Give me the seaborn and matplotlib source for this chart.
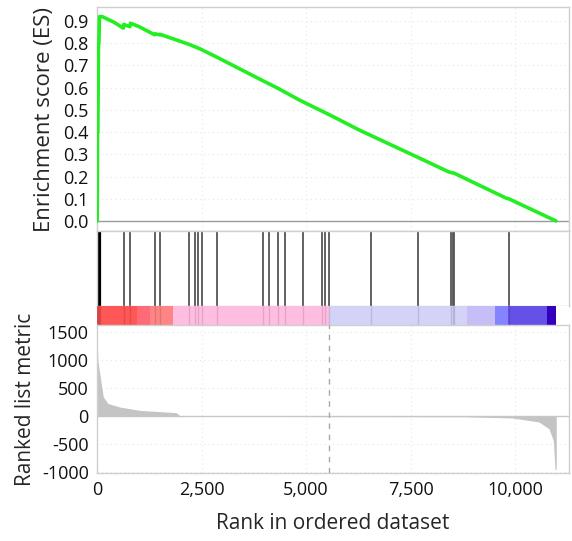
import numpy as np
import pandas as pd
import matplotlib
matplotlib.use("Agg")
import matplotlib.pyplot as plt
import seaborn as sns

# ---------------- data ----------------
es_rank = [0, 5, 12, 20, 35, 45, 60, 120, 400, 630, 640, 700, 790, 800, 1000,
           1380, 1400, 1500, 1510, 2200, 2460, 2870, 3980, 4320, 4845, 5560,
           6277, 7680, 8425, 8545, 9785, 9850, 10980]
es_value = [0.0, 0.0, 0.40, 0.40, 0.79, 0.80, 0.92, 0.92, 0.895, 0.868, 0.885,
            0.88, 0.875, 0.89, 0.875, 0.838, 0.842, 0.838, 0.84, 0.795, 0.775,
            0.737, 0.630, 0.598, 0.544, 0.478, 0.409, 0.286, 0.22, 0.215, 0.103,
            0.10, 0.0]

hit_ranks = [5, 15, 40, 60, 652, 795, 1392, 1504, 2212, 2339, 2419, 2514, 2864,
             3978, 4121, 4320, 4503, 4933, 5378, 5457, 5561, 6556, 7678, 8465,
             8504, 8544, 9849]

metric_rank = [0, 20, 70, 150, 260, 550, 1030, 1900, 2000, 8780, 9935, 10570,
               10810, 10915, 10955, 10985, 10986]
metric_value = [1400, 1000, 740, 350, 230, 166, 107, 66, 0, -6, -28, -100,
                -220, -430, -940, -950, 0]

band_start = [0, 945, 1265, 1820, 5560, 8860, 9515, 9840, 10770]
band_end = [945, 1265, 1820, 5560, 8860, 9515, 9840, 10770, 10985]
band_color = ["#FF5656", "#FF6A78", "#FF8585", "#FFBDE2", "#D3D3F8",
              "#C6BEF6", "#8484FF", "#6452E8", "#3300BE"]

zero_cross = 5545

es_ticks = [0.0, 0.1, 0.2, 0.3, 0.4, 0.5, 0.6, 0.7, 0.8, 0.9]
metric_ticks = [1500, 1000, 500, 0, -500, -1000]
rank_ticks = [0, 2500, 5000, 7500, 10000]
rank_labels = ["0", "2,500", "5,000", "7,500", "10,000"]

# ---------------- style ----------------
sns.set_style("white")
plt.rcParams['font.family'] = ['Open Sans', 'DejaVu Sans']

W, H = 572, 541
fig = plt.figure(figsize=(W / 100, H / 100), dpi=100)

def box(l, t, r, b):
    return [l / W, 1 - b / H, (r - l) / W, (b - t) / H]

XMAX = 11290
frame_c = "#CFCFCF"
grid_kw = dict(color="#E6E6E6", linestyle=(0, (1, 3)), linewidth=0.8)

ax_es = fig.add_axes(box(97, 7, 569, 231))
ax_hit = fig.add_axes(box(97, 231, 569, 306))
ax_bar = fig.add_axes(box(97, 306, 569, 325))
ax_m = fig.add_axes(box(97, 325, 569, 473))

for ax in (ax_es, ax_hit, ax_bar, ax_m):
    ax.set_xlim(0, XMAX)
    for s in ax.spines.values():
        s.set_color(frame_c)
        s.set_linewidth(1.0)
    ax.tick_params(length=0, labelsize=13, colors="#111111", pad=6)

# ES panel
es_df = pd.DataFrame({"rank": es_rank, "es": es_value})
ax_es.axhline(0, color="#9A9A9A", linewidth=1.0, zorder=1)
for v in rank_ticks[1:]:
    ax_es.axvline(v, **grid_kw, zorder=0)
for v in es_ticks[1:]:
    ax_es.axhline(v, **grid_kw, zorder=0)
sns.lineplot(data=es_df, x="rank", y="es", ax=ax_es, color="#22EE22",
             linewidth=2.6, sort=False, estimator=None, zorder=3)
ax_es.set_ylim(-0.045, 0.963)
ax_es.set_yticks(es_ticks)
ax_es.set_yticklabels([f"{t:.1f}" for t in es_ticks])
ax_es.set_xticks([])
ax_es.set_xlabel("")
ax_es.set_ylabel("Enrichment score (ES)", fontsize=16, labelpad=6)

# hits panel
ax_hit.vlines(hit_ranks, 0, 1, color="#555555", linewidth=1.3)
ax_hit.vlines(hit_ranks[:4], 0, 1, color="#000000", linewidth=1.6)
ax_hit.set_ylim(0, 1)
ax_hit.set_xticks([])
ax_hit.set_yticks([])

# colour band
for s, e, c in zip(band_start, band_end, band_color):
    ax_bar.axvspan(s, e, color=c, linewidth=0)
ax_bar.vlines(hit_ranks, 0, 1, color="#000000", linewidth=1.0, alpha=0.12)
ax_bar.set_ylim(0, 1)
ax_bar.set_xticks([])
ax_bar.set_yticks([])
for s in ax_bar.spines.values():
    s.set_visible(False)

# ranked list metric panel
for v in rank_ticks[1:]:
    ax_m.axvline(v, **grid_kw, zorder=0)
for v in metric_ticks:
    ax_m.axhline(v, **grid_kw, zorder=0)
ax_m.fill_between(metric_rank, 0, metric_value, color="#C4C4C4", linewidth=0,
                  zorder=2)
ax_m.axhline(0, color="#C8C8C8", linewidth=1.0, zorder=1)
ax_m.axvline(zero_cross, color="#A8A8A8", linestyle=(0, (4, 4)),
             linewidth=1.0, zorder=3)
ax_m.set_ylim(-1010, 1630)
ax_m.set_yticks(metric_ticks)
ax_m.set_yticklabels([str(t) for t in metric_ticks])
ax_m.set_xticks(rank_ticks)
ax_m.set_xticklabels(rank_labels)
ax_m.set_ylabel("Ranked list metric", fontsize=15, labelpad=4)
ax_m.set_xlabel("Rank in ordered dataset", fontsize=15, labelpad=10)

fig.savefig("out.png", dpi=100)
